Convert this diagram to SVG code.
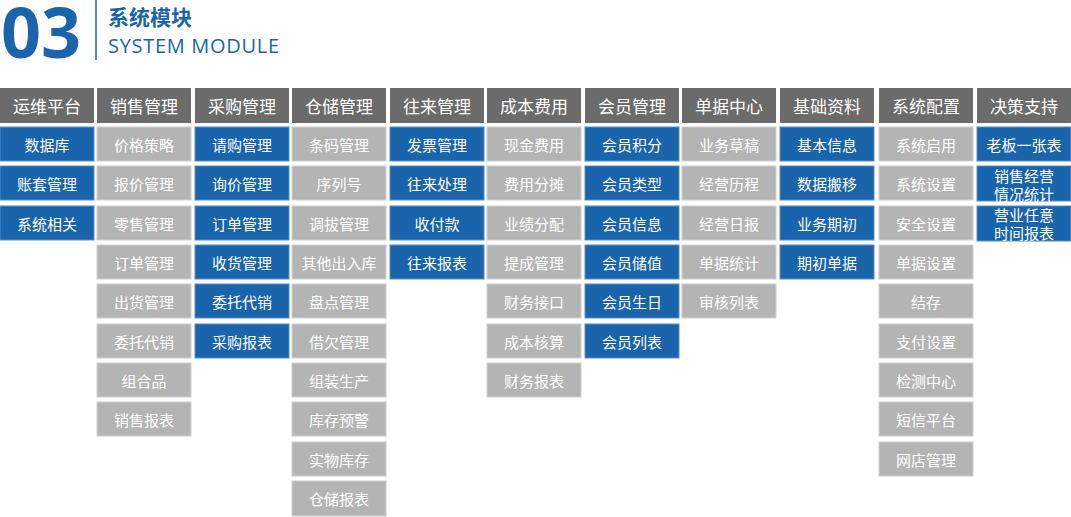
<svg xmlns="http://www.w3.org/2000/svg" width="1071" height="517" viewBox="0 0 1071 517">
<style>
text{font-family:"Noto Sans CJK SC","Noto Sans",sans-serif;text-anchor:middle;dominant-baseline:central;fill:#fff}
.h rect{fill:#6b6b6b}
.h text{font-size:17px}
.b rect{fill:#1a64ab;stroke:#5a8cc4;stroke-width:1}
.g rect{fill:#b4b4b4;stroke:#d0d0d0;stroke-width:1}
.b text,.g text{font-size:15px}
</style>
<rect width="1071" height="517" fill="#fff"/>
<g id="title">
<text x="41" y="31" style="font-family:'Open Sans','Noto Sans',sans-serif;font-size:70px;font-weight:bold;fill:#1a64ab">03</text>
<line x1="96" y1="0" x2="96" y2="60" stroke="#1a64ab" stroke-width="1.5"/>
<text x="108" y="16" style="text-anchor:start;font-size:21px;font-weight:bold;fill:#1a64ab">系统模块</text>
<text x="108" y="45" style="text-anchor:start;font-family:'Open Sans','Noto Sans',sans-serif;font-size:20px;fill:#1a64ab" textLength="171">SYSTEM MODULE</text>
</g>
<g id="col1">
<g class="h"><rect x="0" y="88" width="94" height="35"/><text x="47" y="105.5">运维平台</text></g>
<g class="b"><rect x="0" y="127" width="94" height="34"/><text x="47" y="144">数据库</text></g>
<g class="b"><rect x="0" y="166" width="94" height="34"/><text x="47" y="183">账套管理</text></g>
<g class="b"><rect x="0" y="206" width="94" height="34"/><text x="47" y="223">系统相关</text></g>
</g>
<g id="col2">
<g class="h"><rect x="97" y="88" width="94" height="35"/><text x="144" y="105.5">销售管理</text></g>
<g class="g"><rect x="97" y="127" width="94" height="34"/><text x="144" y="144">价格策略</text></g>
<g class="g"><rect x="97" y="166" width="94" height="34"/><text x="144" y="183">报价管理</text></g>
<g class="g"><rect x="97" y="206" width="94" height="34"/><text x="144" y="223">零售管理</text></g>
<g class="g"><rect x="97" y="245" width="94" height="34"/><text x="144" y="262">订单管理</text></g>
<g class="g"><rect x="97" y="284" width="94" height="34"/><text x="144" y="301">出货管理</text></g>
<g class="g"><rect x="97" y="324" width="94" height="34"/><text x="144" y="341">委托代销</text></g>
<g class="g"><rect x="97" y="363" width="94" height="34"/><text x="144" y="380">组合品</text></g>
<g class="g"><rect x="97" y="402" width="94" height="34"/><text x="144" y="419">销售报表</text></g>
</g>
<g id="col3">
<g class="h"><rect x="195" y="88" width="94" height="35"/><text x="242" y="105.5">采购管理</text></g>
<g class="b"><rect x="195" y="127" width="94" height="34"/><text x="242" y="144">请购管理</text></g>
<g class="b"><rect x="195" y="166" width="94" height="34"/><text x="242" y="183">询价管理</text></g>
<g class="b"><rect x="195" y="206" width="94" height="34"/><text x="242" y="223">订单管理</text></g>
<g class="b"><rect x="195" y="245" width="94" height="34"/><text x="242" y="262">收货管理</text></g>
<g class="b"><rect x="195" y="284" width="94" height="34"/><text x="242" y="301">委托代销</text></g>
<g class="b"><rect x="195" y="324" width="94" height="34"/><text x="242" y="341">采购报表</text></g>
</g>
<g id="col4">
<g class="h"><rect x="292" y="88" width="94" height="35"/><text x="339" y="105.5">仓储管理</text></g>
<g class="g"><rect x="292" y="127" width="94" height="34"/><text x="339" y="144">条码管理</text></g>
<g class="g"><rect x="292" y="166" width="94" height="34"/><text x="339" y="183">序列号</text></g>
<g class="g"><rect x="292" y="206" width="94" height="34"/><text x="339" y="223">调拔管理</text></g>
<g class="g"><rect x="292" y="245" width="94" height="34"/><text x="339" y="262">其他出入库</text></g>
<g class="g"><rect x="292" y="284" width="94" height="34"/><text x="339" y="301">盘点管理</text></g>
<g class="g"><rect x="292" y="324" width="94" height="34"/><text x="339" y="341">借欠管理</text></g>
<g class="g"><rect x="292" y="363" width="94" height="34"/><text x="339" y="380">组装生产</text></g>
<g class="g"><rect x="292" y="402" width="94" height="34"/><text x="339" y="419">库存预警</text></g>
<g class="g"><rect x="292" y="442" width="94" height="34"/><text x="339" y="459">实物库存</text></g>
<g class="g"><rect x="292" y="481" width="94" height="35"/><text x="339" y="498">仓储报表</text></g>
</g>
<g id="col5">
<g class="h"><rect x="390" y="88" width="94" height="35"/><text x="437" y="105.5">往来管理</text></g>
<g class="b"><rect x="390" y="127" width="94" height="34"/><text x="437" y="144">发票管理</text></g>
<g class="b"><rect x="390" y="166" width="94" height="34"/><text x="437" y="183">往来处理</text></g>
<g class="b"><rect x="390" y="206" width="94" height="34"/><text x="437" y="223">收付款</text></g>
<g class="b"><rect x="390" y="245" width="94" height="34"/><text x="437" y="262">往来报表</text></g>
</g>
<g id="col6">
<g class="h"><rect x="487" y="88" width="94" height="35"/><text x="534" y="105.5">成本费用</text></g>
<g class="g"><rect x="487" y="127" width="94" height="34"/><text x="534" y="144">现金费用</text></g>
<g class="g"><rect x="487" y="166" width="94" height="34"/><text x="534" y="183">费用分摊</text></g>
<g class="g"><rect x="487" y="206" width="94" height="34"/><text x="534" y="223">业绩分配</text></g>
<g class="g"><rect x="487" y="245" width="94" height="34"/><text x="534" y="262">提成管理</text></g>
<g class="g"><rect x="487" y="284" width="94" height="34"/><text x="534" y="301">财务接口</text></g>
<g class="g"><rect x="487" y="324" width="94" height="34"/><text x="534" y="341">成本核算</text></g>
<g class="g"><rect x="487" y="363" width="94" height="34"/><text x="534" y="380">财务报表</text></g>
</g>
<g id="col7">
<g class="h"><rect x="585" y="88" width="94" height="35"/><text x="632" y="105.5">会员管理</text></g>
<g class="b"><rect x="585" y="127" width="94" height="34"/><text x="632" y="144">会员积分</text></g>
<g class="b"><rect x="585" y="166" width="94" height="34"/><text x="632" y="183">会员类型</text></g>
<g class="b"><rect x="585" y="206" width="94" height="34"/><text x="632" y="223">会员信息</text></g>
<g class="b"><rect x="585" y="245" width="94" height="34"/><text x="632" y="262">会员储值</text></g>
<g class="b"><rect x="585" y="284" width="94" height="34"/><text x="632" y="301">会员生日</text></g>
<g class="b"><rect x="585" y="324" width="94" height="34"/><text x="632" y="341">会员列表</text></g>
</g>
<g id="col8">
<g class="h"><rect x="682" y="88" width="94" height="35"/><text x="729" y="105.5">单据中心</text></g>
<g class="g"><rect x="682" y="127" width="94" height="34"/><text x="729" y="144">业务草稿</text></g>
<g class="g"><rect x="682" y="166" width="94" height="34"/><text x="729" y="183">经营历程</text></g>
<g class="g"><rect x="682" y="206" width="94" height="34"/><text x="729" y="223">经营日报</text></g>
<g class="g"><rect x="682" y="245" width="94" height="34"/><text x="729" y="262">单据统计</text></g>
<g class="g"><rect x="682" y="284" width="94" height="34"/><text x="729" y="301">审核列表</text></g>
</g>
<g id="col9">
<g class="h"><rect x="780" y="88" width="94" height="35"/><text x="827" y="105.5">基础资料</text></g>
<g class="b"><rect x="780" y="127" width="94" height="34"/><text x="827" y="144">基本信息</text></g>
<g class="b"><rect x="780" y="166" width="94" height="34"/><text x="827" y="183">数据搬移</text></g>
<g class="b"><rect x="780" y="206" width="94" height="34"/><text x="827" y="223">业务期初</text></g>
<g class="b"><rect x="780" y="245" width="94" height="34"/><text x="827" y="262">期初单据</text></g>
</g>
<g id="col10">
<g class="h"><rect x="879" y="88" width="94" height="35"/><text x="926" y="105.5">系统配置</text></g>
<g class="g"><rect x="879" y="127" width="94" height="34"/><text x="926" y="144">系统启用</text></g>
<g class="g"><rect x="879" y="166" width="94" height="34"/><text x="926" y="183">系统设置</text></g>
<g class="g"><rect x="879" y="206" width="94" height="34"/><text x="926" y="223">安全设置</text></g>
<g class="g"><rect x="879" y="245" width="94" height="34"/><text x="926" y="262">单据设置</text></g>
<g class="g"><rect x="879" y="284" width="94" height="34"/><text x="926" y="301">结存</text></g>
<g class="g"><rect x="879" y="324" width="94" height="34"/><text x="926" y="341">支付设置</text></g>
<g class="g"><rect x="879" y="363" width="94" height="34"/><text x="926" y="380">检测中心</text></g>
<g class="g"><rect x="879" y="402" width="94" height="34"/><text x="926" y="419">短信平台</text></g>
<g class="g"><rect x="879" y="442" width="94" height="34"/><text x="926" y="459">网店管理</text></g>
</g>
<g id="col11">
<g class="h"><rect x="977" y="88" width="94" height="35"/><text x="1024" y="105.5">决策支持</text></g>
<g class="b"><rect x="977" y="127" width="94" height="34"/><text x="1024" y="144">老板一张表</text></g>
<g class="b"><rect x="977" y="166" width="94" height="35"/><text x="1024" y="175">销售经营</text><text x="1024" y="193">情况统计</text></g>
<g class="b"><rect x="977" y="206" width="94" height="35"/><text x="1024" y="214">营业任意</text><text x="1024" y="232">时间报表</text></g>
</g>
<g id="connectors"/>
</svg>
